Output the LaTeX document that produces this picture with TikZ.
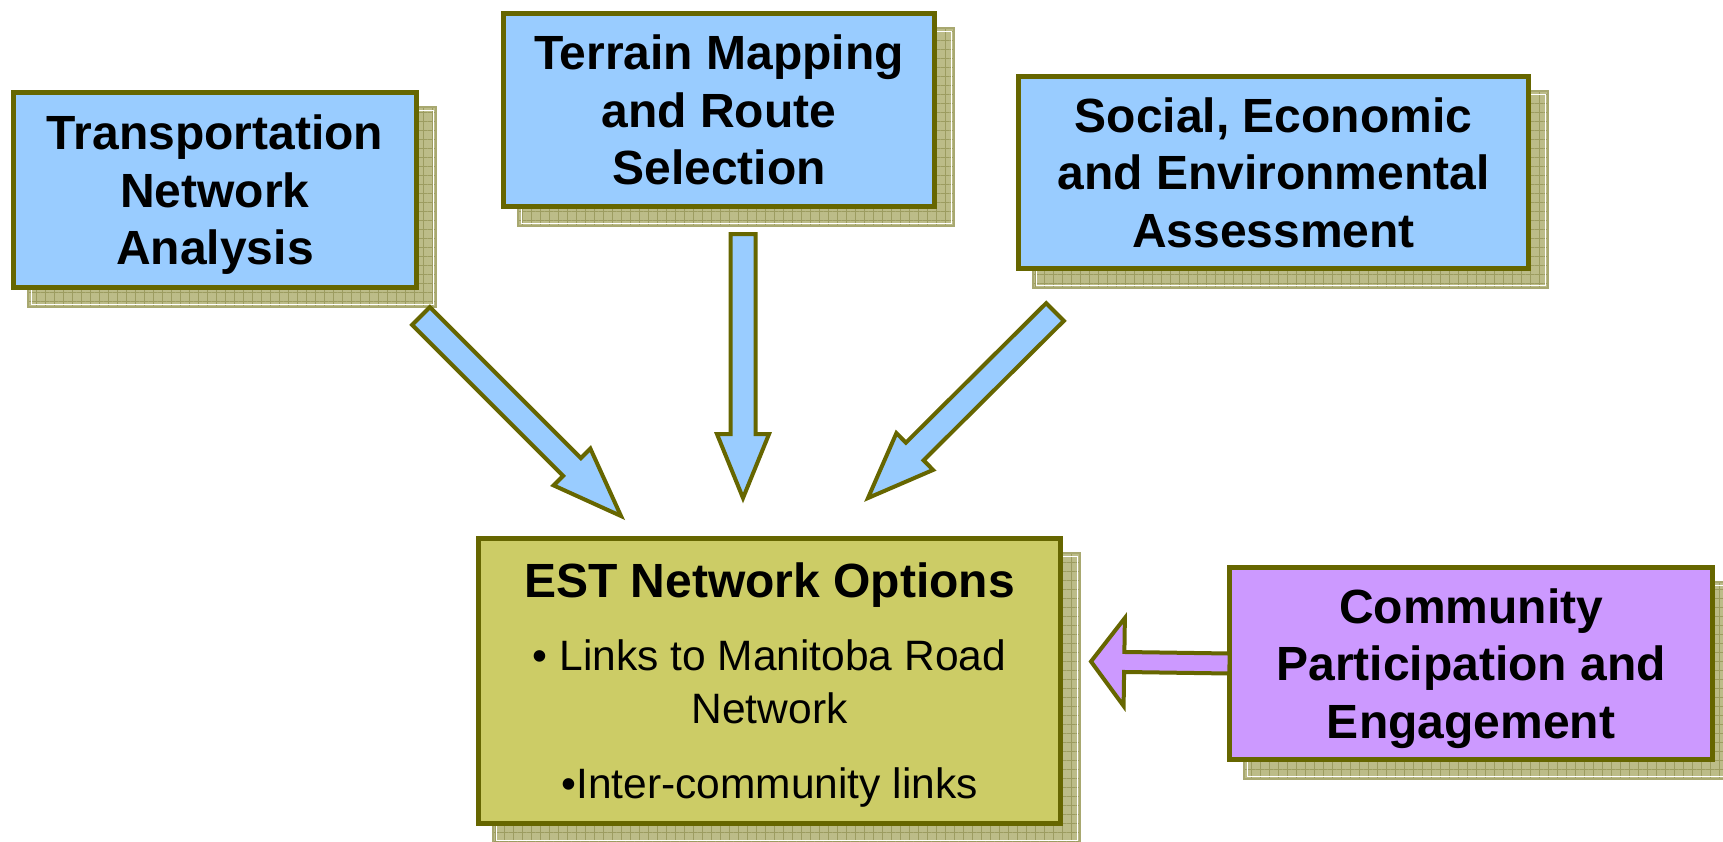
\documentclass[tikz,border=0pt]{standalone}
\usepackage{fontspec}
\setmainfont{Liberation Sans}
\usetikzlibrary{calc,backgrounds,patterns.meta}
\definecolor{boxblue}{HTML}{99CCFF}
\definecolor{olivebd}{HTML}{666600}
\definecolor{estfill}{HTML}{CCCC66}
\definecolor{purp}{HTML}{CC99FF}
\definecolor{shadowfill}{HTML}{BCBC88}
\definecolor{shadowgrid}{HTML}{9C9C60}
\definecolor{shadowedge}{HTML}{A8A870}
\newcommand\nodepth[1]{\raisebox{0pt}[\height][0pt]{#1}}
\newcommand\shadowfor[1]{%
  \fill[shadowfill] ([shift={(17,17)}]#1.north west) rectangle ([shift={(17,17)}]#1.south east);
  \fill[pattern={Hatch[angle=0,distance=9pt,line width=0.6pt]}, pattern color=shadowgrid]
    ([shift={(17,17)}]#1.north west) rectangle ([shift={(17,17)}]#1.south east);
  \draw[shadowedge, line width=1.2pt] ([shift={(17,17)}]#1.north west) rectangle ([shift={(17,17)}]#1.south east);
  \draw[white, line width=1pt] ([shift={(20,20)}]#1.north west) rectangle ([shift={(14,14)}]#1.south east);}
\newcommand\blkarrow[6]{% tail, tip, fraction, shaft half width, head half width, fill
  \coordinate (hb) at ($(#1)!#3!(#2)$);
  \draw[arr, fill=#6] ($(#1)!#4pt!90:(#2)$) -- ($(hb)!#4pt!90:(#2)$) -- ($(hb)!#5pt!90:(#2)$) -- (#2)
    -- ($(hb)!#5pt!-90:(#2)$) -- ($(hb)!#4pt!-90:(#2)$) -- ($(#1)!#4pt!-90:(#2)$) -- cycle;}
\begin{document}
\begin{tikzpicture}[x=1pt,y=-1pt,
  mybox/.style={draw=olivebd, line width=5pt, inner sep=0pt, align=center,
    font=\fontsize{48}{57.5}\selectfont\bfseries},
  bluebox/.style={mybox, fill=boxblue},
  arr/.style={draw=olivebd, line width=4pt, line join=miter, miter limit=10}]
\useasboundingbox (0,0) rectangle (1723,841);

\node[bluebox, minimum width=403pt, minimum height=195pt] (tna) at (215,190)
  {Transportation\\Network\\\nodepth{Analysis}};
\node[bluebox, minimum width=431pt, minimum height=193pt] (ter) at (719,110)
  {Terrain Mapping\\and Route\\\nodepth{Selection}};
\node[bluebox, minimum width=510pt, minimum height=192pt] (soc) at (1273.5,172.5)
  {Social, Economic\\and Environmental\\\nodepth{Assessment}};
\node[mybox, fill=estfill, minimum width=582pt, minimum height=285pt] (est) at (769.5,681)
  {\begin{minipage}{560pt}\centering
   \fontsize{48}{57.5}\selectfont\bfseries EST Network Options\par
   \fontsize{42.5}{53}\selectfont\mdseries\vspace{20pt}
   • Links to Manitoba Road\\Network\par\vspace{22pt}
   \nodepth{•Inter-community links}\par
   \end{minipage}};
\node[mybox, fill=purp, minimum width=483pt, minimum height=192pt] (com) at (1471,663.5)
  {Community\\Participation and\\\nodepth{Engagement}};

\begin{scope}[on background layer]
  \fill[white] (0,0) rectangle (1723,841);
  \shadowfor{tna}
  \shadowfor{ter}
  \shadowfor{soc}
  \shadowfor{est}
  \shadowfor{com}
\end{scope}

\coordinate (t1) at (421,316);  \coordinate (p1) at (621,516);
\coordinate (t2) at (743,234);  \coordinate (p2) at (743,498);
\coordinate (t3) at (1055,312); \coordinate (p3) at (868,498);
\coordinate (t4) at ([xshift=2.5pt]com.west); \coordinate (p4) at (1091,661.5);

\blkarrow{t1}{p1}{0.755}{12.5}{26}{boxblue}
\blkarrow{t2}{p2}{0.758}{12.5}{26}{boxblue}
\blkarrow{t3}{p3}{0.75}{12.5}{26}{boxblue}
\blkarrow{t4}{p4}{0.76}{10}{44}{purp}
\end{tikzpicture}
\end{document}
